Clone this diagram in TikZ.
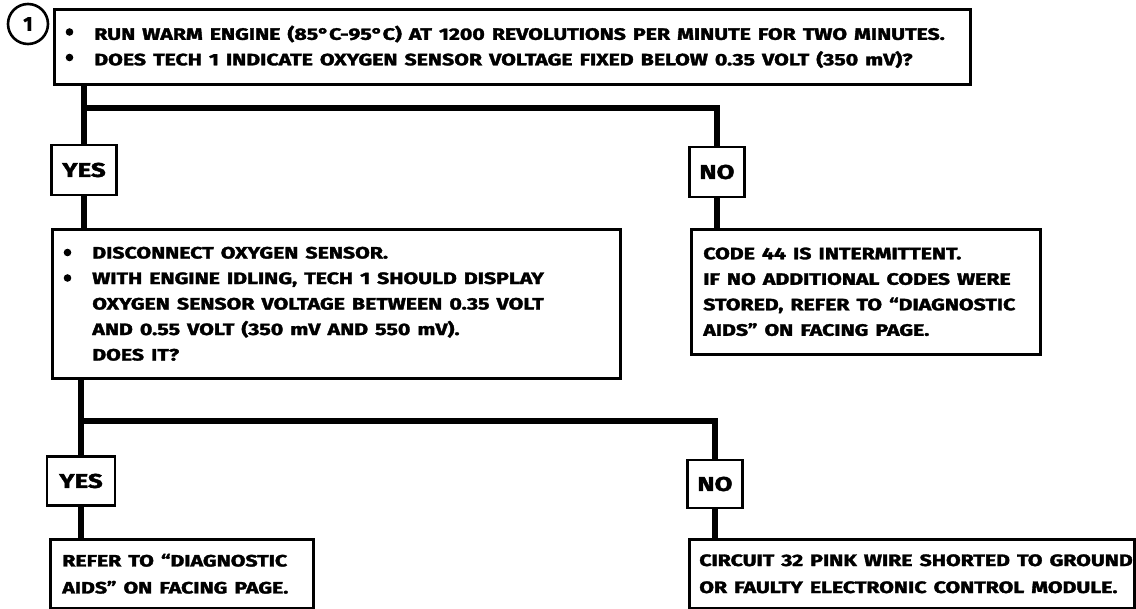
\documentclass[tikz,border=0pt]{standalone}
\usepackage{fontspec}
\setmainfont{Fira Sans}[BoldFeatures={FakeBold=1.8}]
\usepackage{graphicx}
\usetikzlibrary{calc}
\newcommand\bodyfont{\fontsize{16.5}{25.5}\selectfont\bfseries}
\newcommand\botfont{\fontsize{16.5}{27}\selectfont\bfseries}
\newcommand\labfont{\fontsize{20}{22}\selectfont\bfseries}
\newlength\reflen
\newcommand\sline[1]{\scalebox{\sx}[1]{#1}}
\newcommand\hang{\hspace*{28pt}}
\begin{document}
\settowidth\reflen{\bodyfont RUN WARM ENGINE (85°C-95°C) AT 1200 REVOLUTIONS PER MINUTE FOR TWO MINUTES.}%
\pgfmathsetmacro\sx{828/\reflen}%
\begin{tikzpicture}[x=1pt,y=-1pt,
  box/.style={draw, line width=2.6pt, anchor=north west, inner xsep=12pt, inner ysep=0pt, align=left, font=\bodyfont},
  lab/.style={draw, line width=2.6pt, inner sep=0pt, font=\labfont},
  conn/.style={line width=6.5pt, line join=miter},
  bulletdot/.style={fill=black}]
\useasboundingbox (0,0) rectangle (1136,609);
% step number
\node[circle, draw, line width=2.6pt, minimum size=40pt, inner sep=0pt, font=\labfont] (num) at (28,24) {1};
% boxes
\node[box, text width=892pt, minimum height=75pt] (top) at (53,8)
  {\hang\sline{RUN WARM ENGINE (85°C-95°C) AT 1200 REVOLUTIONS PER MINUTE FOR TWO MINUTES.}\\
   \hang\sline{DOES TECH 1 INDICATE OXYGEN SENSOR VOLTAGE FIXED BELOW 0.35 VOLT (350 mV)?}};
\node[lab, minimum width=65pt, minimum height=50pt] (yes1) at (84,170) {\sline{YES}};
\node[lab, minimum width=55pt, minimum height=50pt] (no1) at (717,172) {\sline{NO}};
\node[box, text width=544pt, minimum height=149pt, inner xsep=12pt] (disc) at (51,228)
  {\hang\sline{DISCONNECT OXYGEN SENSOR.}\\
   \hang\sline{WITH ENGINE IDLING, TECH 1 SHOULD DISPLAY}\\
   \hang\sline{OXYGEN SENSOR VOLTAGE BETWEEN 0.35 VOLT}\\
   \hang\sline{AND 0.55 VOLT (350 mV AND 550 mV).}\\
   \hang\sline{DOES IT?}};
\node[box, text width=325pt, minimum height=125pt] (code) at (690,228)
  {\sline{CODE 44 IS INTERMITTENT.}\\
   \sline{IF NO ADDITIONAL CODES WERE}\\
   \sline{STORED, REFER TO “DIAGNOSTIC}\\
   \sline{AIDS” ON FACING PAGE.}};
\node[lab, minimum width=68pt, minimum height=49pt] (yes2) at (81,481) {\sline{YES}};
\node[lab, minimum width=55pt, minimum height=48pt] (no2) at (715,484) {\sline{NO}};
\node[box, font=\botfont, text width=239pt, minimum height=69pt] (refer) at (49,538)
  {\sline{REFER TO “DIAGNOSTIC}\\
   \sline{AIDS” ON FACING PAGE.}};
\node[box, font=\botfont, text width=425pt, inner xsep=10pt, minimum height=69pt] (circ) at (688,538)
  {\sline{CIRCUIT 32 PINK WIRE SHORTED TO GROUND}\\
   \sline{OR FAULTY ELECTRONIC CONTROL MODULE.}};
% bullets
\fill[bulletdot] ($(top.north west)+(16.5,24)$) circle (3.8pt);
\fill[bulletdot] ($(top.north west)+(16.5,49.5)$) circle (3.8pt);
\fill[bulletdot] ($(disc.north west)+(16.5,24.5)$) circle (3.8pt);
\fill[bulletdot] ($(disc.north west)+(16.5,50)$) circle (3.8pt);
% junctions
\coordinate (j1) at ($(yes1)+(0,-62)$);
\coordinate (j2) at ($(yes2)+(0,-60)$);
% connectors
\draw[conn] (top.south -| yes1) -- (yes1.north);
\draw[conn] (j1) -| (no1.north);
\draw[conn] (yes1.south) -- (yes1.south |- disc.north);
\draw[conn] (no1.south) -- (no1.south |- code.north);
\draw[conn] (disc.south -| yes2) -- (yes2.north);
\draw[conn] (j2) -| (no2.north);
\draw[conn] (yes2.south) -- (yes2.south |- refer.north);
\draw[conn] (no2.south) -- (no2.south |- circ.north);
\end{tikzpicture}
\end{document}
